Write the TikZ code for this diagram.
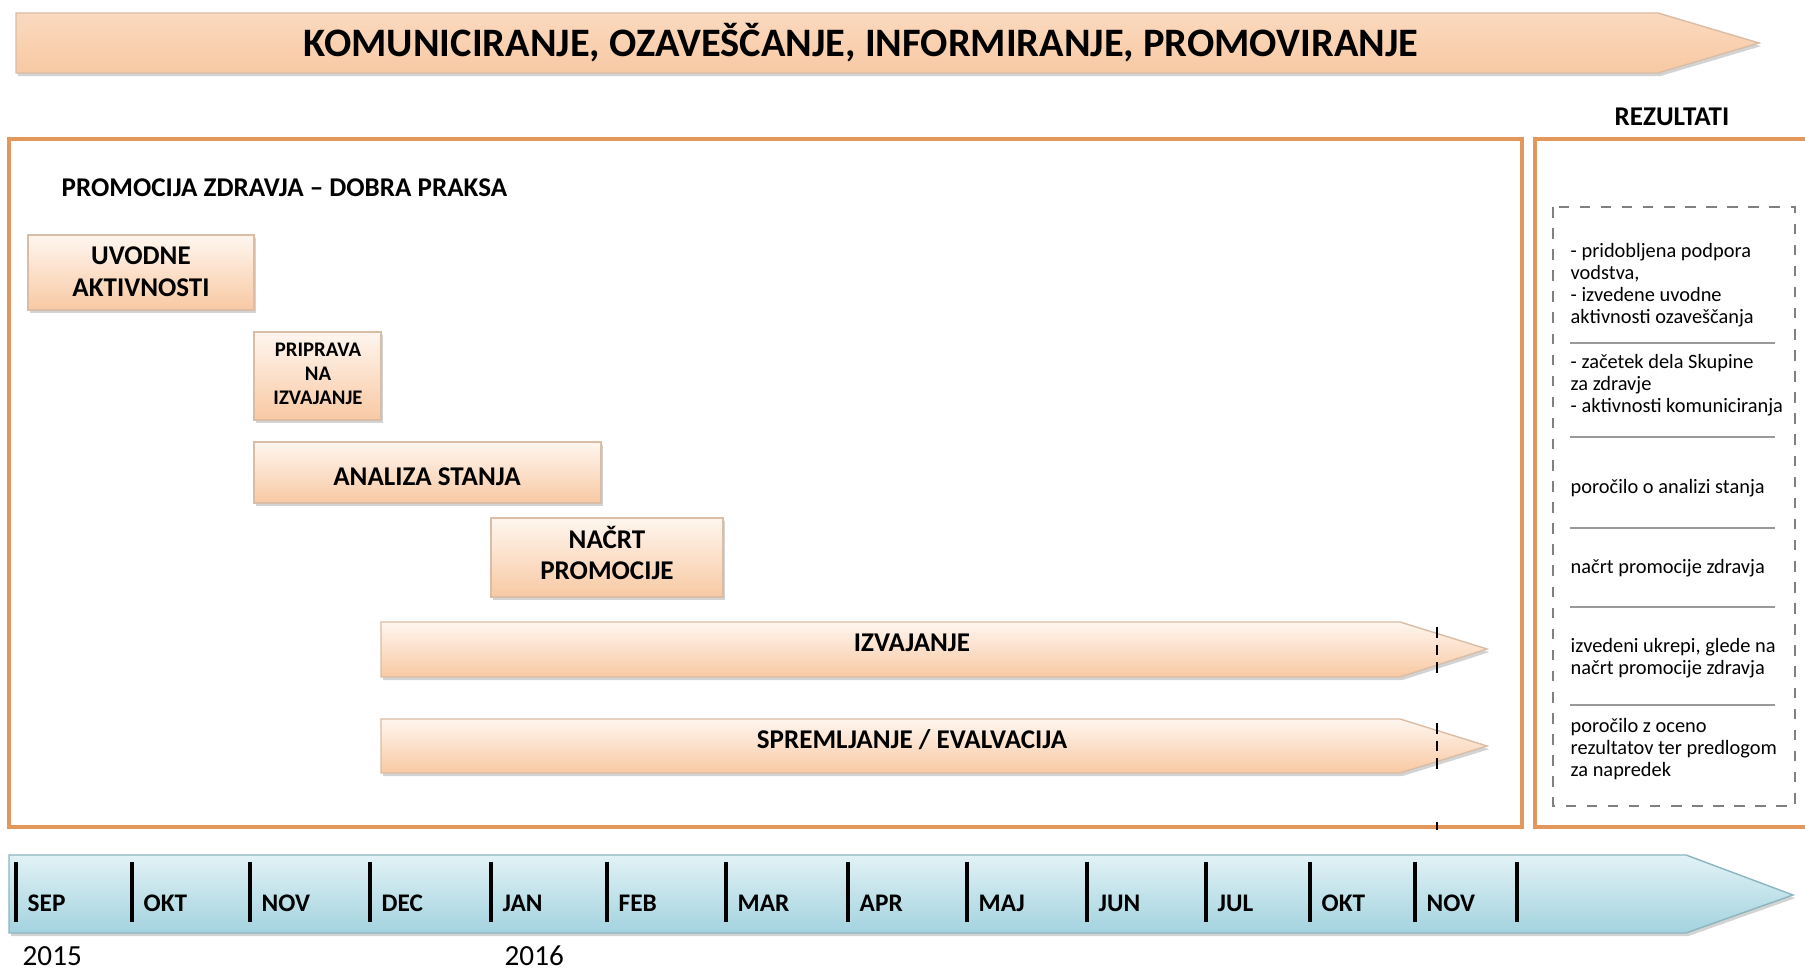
\documentclass[tikz,border=0pt]{standalone}
\usepackage{fontspec}
\setmainfont{Carlito}
\usetikzlibrary{shadows}
\definecolor{frameor}{HTML}{E3975A}
\definecolor{peachlo}{HTML}{F8C9A3}
\definecolor{peachhi}{HTML}{FFF6EF}
\definecolor{peachline}{HTML}{D9BDA6}
\definecolor{bluehi}{HTML}{E2F2F6}
\definecolor{bluelo}{HTML}{A3D3DF}
\definecolor{blueline}{HTML}{8DB5C0}
\tikzset{
  phase/.style={draw=peachline, top color=peachhi, bottom color=peachlo,
    drop shadow={shadow xshift=.6pt, shadow yshift=-.9pt, opacity=.35}},
  lbl/.style={font=\fontsize{7.7}{9}\selectfont\bfseries, align=center},
  res/.style={font=\fontsize{5.8}{6.3}\selectfont, align=left, anchor=west, inner sep=0pt},
  month/.style={font=\fontsize{7.2}{8}\selectfont\bfseries, anchor=west, inner sep=0pt},
  year/.style={font=\fontsize{8.3}{9}\selectfont, anchor=west, inner sep=0pt},
}

\begin{document}
\begin{tikzpicture}[x=0.1mm, y=-0.1mm]
\useasboundingbox (0,0) rectangle (1805,973);
% top band
\draw[phase, top color=peachlo!70, bottom color=peachlo] (16,13) -- (1658,13) -- (1759,43) -- (1658,73) -- (16,73) -- cycle;
\node[lbl, font=\fontsize{11.5}{13}\selectfont\bfseries] (komun) at (861,43) {KOMUNICIRANJE, OZAVEŠČANJE, INFORMIRANJE, PROMOVIRANJE};
% frames
\draw[frameor, line width=1pt] (9,139) rectangle (1522,827);
\draw[frameor, line width=1pt] (1535,139) rectangle (1815,827);
\node[lbl] (rez) at (1672,117) {REZULTATI};
\node[lbl, anchor=west, inner sep=0pt, font=\fontsize{7.7}{9}\selectfont\bfseries] (naslov) at (61,188) {PROMOCIJA ZDRAVJA -- DOBRA PRAKSA};
% phases
\draw[phase] (28,235) rectangle (254,310); \node[lbl] (uvod) at (141,272) {UVODNE\\AKTIVNOSTI};
\draw[phase] (254,332) rectangle (381,420); \node[lbl, font=\fontsize{5.9}{6.8}\selectfont\bfseries] (pripr) at (318,374) {PRIPRAVA\\NA\\IZVAJANJE};
\draw[phase] (254,442) rectangle (601,503); \node[lbl] (anal) at (427,477) {ANALIZA STANJA};
\draw[phase] (491,518) rectangle (723,597); \node[lbl] (nacrt) at (607,553) {NAČRT\\PROMOCIJE};
\draw[phase] (381,622) -- (1400,622) -- (1487,649) -- (1400,677) -- (381,677) -- cycle; \node[lbl] (izv) at (912,643) {IZVAJANJE};
\draw[phase] (381,719) -- (1400,719) -- (1487,746) -- (1400,773) -- (381,773) -- cycle; \node[lbl] (sprem) at (912,740) {SPREMLJANJE / EVALVACIJA};
\draw[densely dashed, thick] (1437,627) -- (1437,675);
\draw[densely dashed, thick] (1437,723) -- (1437,770);
\draw[thick] (1437,822) -- (1437,830);
% results
\draw[gray, dashed] (1553,207) rectangle (1795,806);
\foreach \y in {343,437,528,607,705} \draw[gray!80, line width=.8pt] (1570,\y) -- (1775,\y);
\node[res] (r1) at (1570,285) {- pridobljena podpora\\vodstva,\\- izvedene uvodne\\aktivnosti ozaveščanja};
\node[res] (r2) at (1570,385) {- začetek dela Skupine\\za zdravje\\- aktivnosti komuniciranja};
\node[res] (r3) at (1570,488) {poročilo o analizi stanja};
\node[res] (r4) at (1570,568) {načrt promocije zdravja};
\node[res] (r5) at (1570,658) {izvedeni ukrepi, glede na\\načrt promocije zdravja};
\node[res] (r6) at (1570,749) {poročilo z oceno\\rezultatov ter predlogom\\za napredek};
% timeline
\draw[draw=blueline, top color=bluehi, bottom color=bluelo,
  drop shadow={shadow xshift=.6pt, shadow yshift=-.9pt, opacity=.35}] (9,855) -- (1686,855) -- (1793,895) -- (1686,933) -- (9,933) -- cycle;
\foreach \x/\m in {16/SEP,132/OKT,250/NOV,370/DEC,491/JAN,607/FEB,726/MAR,848/APR,967/MAJ,1087/JUN,1206/JUL,1310/OKT,1415/NOV} {
  \draw[line width=1pt] (\x,862) -- (\x,922);
  \node[month] (m\x) at (\x+11,903) {\m};
}
\draw[line width=1pt] (1517,862) -- (1517,922);
\node[year] (y15) at (22,956) {2015};
\node[year] (y16) at (504,956) {2016};
\end{tikzpicture}
\end{document}
